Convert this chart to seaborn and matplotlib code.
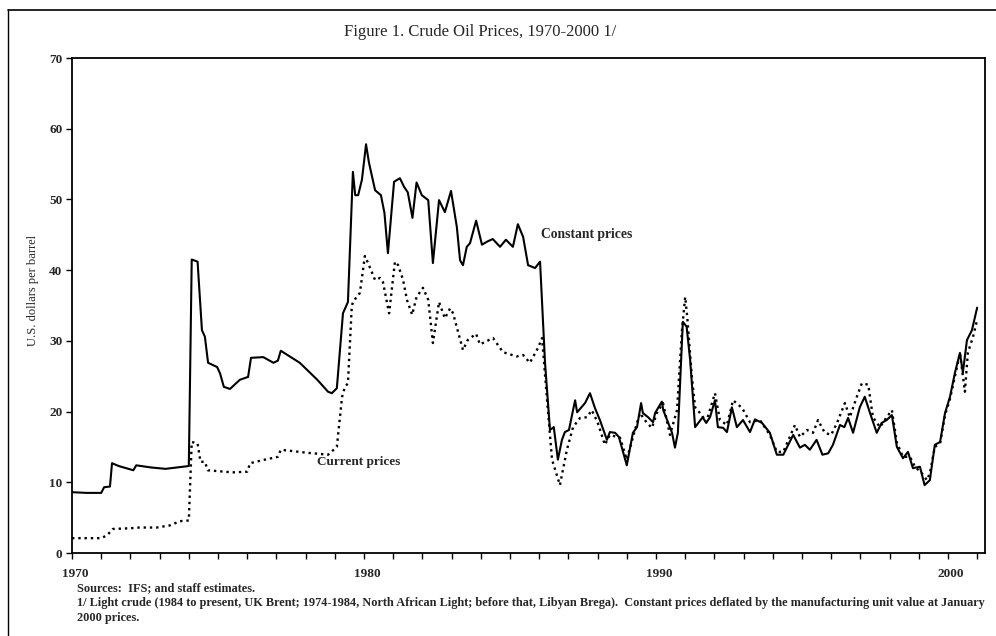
import matplotlib
matplotlib.use("Agg")
import matplotlib.pyplot as plt
import seaborn as sns
import pandas as pd
from matplotlib.lines import Line2D
from matplotlib.transforms import ScaledTranslation

# constant prices (January 2000 dollars)
const_years = [1970.0, 1970.5, 1971.0, 1971.1, 1971.3, 1971.37, 1971.6, 1972.1, 1972.2, 1972.7,
               1973.2, 1973.6, 1974.0, 1974.1, 1974.3, 1974.45, 1974.55, 1974.66, 1974.97, 1975.07,
               1975.2, 1975.41, 1975.75, 1976.03, 1976.13, 1976.55, 1976.9, 1977.05, 1977.15, 1977.8,
               1978.4, 1978.77, 1978.9, 1979.07, 1979.28, 1979.45, 1979.62, 1979.7, 1979.8, 1979.93,
               1980.07, 1980.17, 1980.38, 1980.58, 1980.7, 1980.82, 1981.03, 1981.23, 1981.37, 1981.5,
               1981.66, 1981.8, 1981.98, 1982.2, 1982.36, 1982.57, 1982.77, 1982.98, 1983.18, 1983.29,
               1983.39, 1983.52, 1983.63, 1983.84, 1984.04, 1984.2, 1984.41, 1984.66, 1984.86, 1985.1,
               1985.27, 1985.45, 1985.62, 1985.86, 1986.03, 1986.2, 1986.37, 1986.5, 1986.64, 1986.78,
               1986.88, 1987.02, 1987.23, 1987.3, 1987.57, 1987.74, 1987.91, 1988.08, 1988.32, 1988.42,
               1988.6, 1988.73, 1989.0, 1989.21, 1989.35, 1989.49, 1989.55, 1989.73, 1989.9, 1989.97,
               1990.2, 1990.25, 1990.55, 1990.65, 1990.75, 1990.92, 1991.05, 1991.17, 1991.34, 1991.45,
               1991.6, 1991.72, 1991.85, 1992.02, 1992.12, 1992.3, 1992.43, 1992.6, 1992.77, 1992.98,
               1993.22, 1993.39, 1993.63, 1993.9, 1994.14, 1994.36, 1994.7, 1994.93, 1995.1, 1995.27,
               1995.5, 1995.7, 1995.9, 1996.06, 1996.3, 1996.45, 1996.58, 1996.75, 1996.98, 1997.15,
               1997.33, 1997.56, 1997.73, 1997.9, 1998.08, 1998.25, 1998.46, 1998.63, 1998.8, 1999.04,
               1999.2, 1999.38, 1999.55, 1999.73, 1999.9, 2000.07, 2000.24, 2000.41, 2000.51, 2000.65,
               2000.82, 2001.0]
const_values = [8.6, 8.5, 8.5, 9.3, 9.4, 12.7, 12.3, 11.7, 12.4, 12.1,
                11.9, 12.1, 12.3, 41.5, 41.2, 31.5, 30.6, 26.9, 26.3, 25.4,
                23.5, 23.2, 24.5, 24.9, 27.6, 27.7, 26.9, 27.2, 28.6, 26.9,
                24.5, 22.8, 22.6, 23.3, 33.9, 35.5, 53.9, 50.6, 50.6, 52.8,
                57.8, 55.2, 51.3, 50.6, 48.1, 42.4, 52.5, 53.0, 51.8, 51.0,
                47.4, 52.4, 50.6, 49.9, 41.0, 49.9, 48.2, 51.2, 46.1, 41.4,
                40.7, 43.3, 43.8, 47.0, 43.6, 44.0, 44.4, 43.3, 44.3, 43.3,
                46.5, 44.7, 40.7, 40.3, 41.2, 26.9, 17.4, 17.8, 13.2, 16.0,
                17.1, 17.4, 21.6, 19.9, 21.2, 22.6, 20.5, 18.8, 16.0, 17.1,
                17.0, 16.4, 12.4, 17.0, 17.8, 21.2, 19.8, 19.2, 18.5, 19.8,
                21.4, 20.2, 17.0, 14.9, 17.0, 32.7, 32.0, 27.3, 17.8, 18.4,
                19.2, 18.4, 19.2, 21.6, 17.8, 17.7, 17.1, 20.6, 17.8, 18.8,
                17.1, 18.9, 18.4, 17.0, 13.9, 13.9, 16.7, 14.9, 15.3, 14.6,
                16.0, 13.9, 14.1, 15.3, 18.1, 17.8, 19.1, 17.0, 20.6, 22.1,
                19.8, 17.0, 18.4, 18.8, 19.5, 15.0, 13.4, 14.3, 12.0, 12.2,
                9.6, 10.3, 15.3, 15.7, 19.8, 22.1, 25.5, 28.3, 25.5, 30.1,
                31.5, 34.7]

# current prices (nominal dollars)
curr_years = [1970.0, 1971.0, 1971.2, 1971.4, 1972.0, 1972.3, 1972.9, 1973.35, 1973.7, 1974.0,
              1974.1, 1974.3, 1974.4, 1974.55, 1974.65, 1975.5, 1976.0, 1976.1, 1976.6, 1977.05,
              1977.15, 1978.0, 1978.77, 1979.07, 1979.25, 1979.35, 1979.45, 1979.58, 1979.62, 1979.86,
              1980.03, 1980.14, 1980.38, 1980.55, 1980.65, 1980.86, 1981.06, 1981.17, 1981.34, 1981.47,
              1981.65, 1981.8, 1982.02, 1982.2, 1982.36, 1982.57, 1982.77, 1982.95, 1983.05, 1983.39,
              1983.55, 1983.84, 1983.97, 1984.42, 1984.76, 1985.23, 1985.45, 1985.68, 1985.96, 1986.1,
              1986.27, 1986.44, 1986.71, 1986.95, 1987.16, 1987.4, 1987.64, 1987.8, 1988.0, 1988.25,
              1988.42, 1988.77, 1989.0, 1989.28, 1989.45, 1989.69, 1989.86, 1990.03, 1990.24, 1990.48,
              1990.72, 1990.89, 1991.0, 1991.07, 1991.23, 1991.34, 1991.57, 1991.72, 1992.02, 1992.19,
              1992.43, 1992.64, 1992.95, 1993.22, 1993.56, 1993.9, 1994.14, 1994.36, 1994.76, 1994.93,
              1995.17, 1995.38, 1995.55, 1995.78, 1996.0, 1996.2, 1996.47, 1996.64, 1996.88, 1997.05,
              1997.27, 1997.43, 1997.67, 1997.9, 1998.08, 1998.25, 1998.46, 1998.7, 1998.87, 1999.1,
              1999.28, 1999.38, 1999.55, 1999.73, 1999.9, 2000.07, 2000.24, 2000.41, 2000.58, 2000.68,
              2000.86, 2001.0]
curr_values = [2.1, 2.1, 2.5, 3.4, 3.5, 3.6, 3.6, 3.9, 4.5, 4.6,
               15.7, 15.5, 12.9, 12.9, 11.7, 11.4, 11.5, 12.7, 13.2, 13.6,
               14.6, 14.2, 13.9, 15.0, 22.1, 23.5, 24.0, 34.8, 35.5, 36.8,
               42.0, 41.0, 38.6, 38.9, 38.3, 33.9, 41.2, 40.7, 38.6, 35.8,
               33.7, 36.2, 37.5, 35.8, 29.7, 35.5, 33.2, 34.6, 33.9, 28.7,
               30.1, 31.0, 29.5, 30.4, 28.4, 27.8, 28.0, 26.9, 29.0, 30.4,
               21.6, 13.2, 9.6, 14.6, 17.8, 19.1, 19.2, 20.2, 18.5, 15.3,
               16.7, 16.3, 13.2, 17.4, 19.8, 18.4, 17.7, 19.8, 21.2, 16.7,
               20.2, 31.5, 36.2, 33.4, 24.9, 20.6, 19.5, 18.5, 22.6, 18.8,
               18.1, 21.6, 20.5, 18.5, 18.8, 16.7, 14.3, 14.3, 18.1, 16.4,
               17.4, 17.0, 18.8, 17.0, 16.7, 18.4, 21.2, 19.2, 22.1, 24.0,
               23.8, 19.2, 17.8, 19.2, 20.2, 15.6, 13.6, 13.6, 12.2, 11.3,
               10.3, 11.3, 15.0, 15.5, 19.5, 21.8, 25.0, 28.3, 22.8, 28.3,
               30.6, 33.0]

y_ticks = [0, 10, 20, 30, 40, 50, 60, 70]
x_labels = {1970: "1970", 1980: "1980", 1990: "1990", 2000: "2000"}

const_df = pd.DataFrame({"year": const_years, "price": const_values})
curr_df = pd.DataFrame({"year": curr_years, "price": curr_values})

sns.set_style("ticks")
plt.rcParams["font.family"] = ["Liberation Serif", "DejaVu Serif"]

fig = plt.figure(figsize=(9.96, 6.36), dpi=100)
ax = fig.add_axes([0.0723, 0.1305, 0.9167, 0.7783])

sns.lineplot(data=const_df, x="year", y="price", ax=ax, color="black",
             linewidth=1.5, estimator=None, sort=False)
sns.lineplot(data=curr_df, x="year", y="price", ax=ax, color="black",
             linewidth=1.7, linestyle=":", estimator=None, sort=False)

ax.set_xlim(1970, 2001.27)
ax.set_ylim(0, 70)
ax.set_yticks(y_ticks)
ax.set_yticklabels([str(v) for v in y_ticks], fontsize=9.5, fontweight="bold")
years = list(range(1970, 2002))
ax.set_xticks(years)
ax.set_xticklabels([x_labels.get(y, "") for y in years], fontsize=9.5, fontweight="bold")
ax.tick_params(axis="both", direction="out", length=4, width=1.0, color="black", pad=3)
ax.tick_params(axis="x", pad=7)
shift = ScaledTranslation(3 / 100, 0, fig.dpi_scale_trans)
for lab in ax.get_xticklabels():
    lab.set_transform(lab.get_transform() + shift)
ax.set_xlabel("")
ax.set_ylabel("U.S. dollars per barrel", fontsize=9)
ax.yaxis.set_label_coords(-0.036, 0.53)
for s in ax.spines.values():
    s.set_visible(True)
    s.set_linewidth(1.3)
    s.set_color("black")

ax.text(1986.05, 45.1, "Constant prices", fontsize=9.8, fontweight="bold", va="center")
ax.text(1978.4, 12.8, "Current prices", fontsize=9.5, fontweight="bold", va="center")

fig.text(0.482, 0.949, "Figure 1. Crude Oil Prices, 1970-2000 1/", ha="center", va="center",
         fontsize=12)
fig.text(0.077, 0.075, "Sources:  IFS; and staff estimates.", fontsize=8.8, fontweight="bold",
         va="center")
fig.text(0.077, 0.052, "1/ Light crude (1984 to present, UK Brent; 1974-1984, North African Light; "
         "before that, Libyan Brega).  Constant prices deflated by the manufacturing unit value at January",
         fontsize=8.8, fontweight="bold", va="center")
fig.text(0.077, 0.028, "2000 prices.", fontsize=8.8, fontweight="bold", va="center")

# page frame lines from the scanned document
fig.add_artist(Line2D([0.008, 1.0], [0.984, 0.984], color="black", linewidth=1.2))
fig.add_artist(Line2D([0.008, 0.008], [0.0, 0.984], color="black", linewidth=1.0))

fig.savefig("out.png", dpi=100)
plt.close(fig)
